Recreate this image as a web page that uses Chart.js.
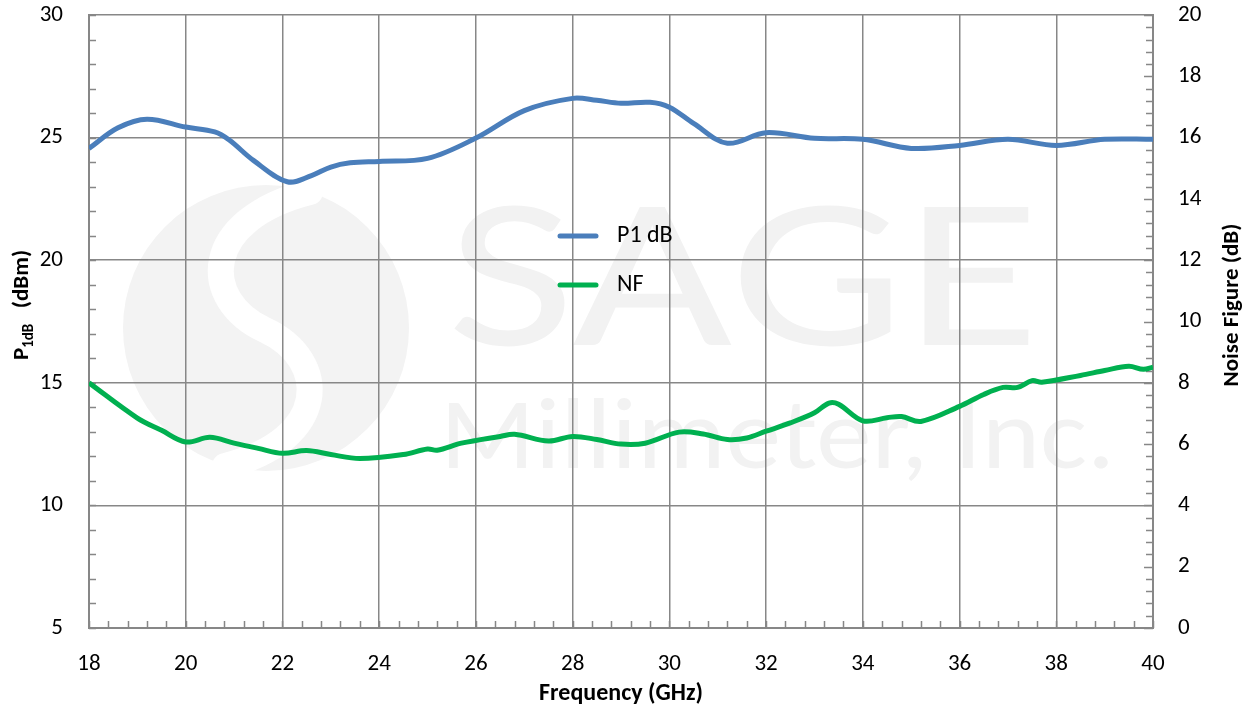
<!DOCTYPE html>
<html>
<head>
<meta charset="utf-8">
<script src="https://cdn.jsdelivr.net/npm/chart.js@4.4.1/dist/chart.umd.min.js"></script>
<style>
  html, body { margin: 0; padding: 0; background: #fff; }
  #wrap { width: 1252px; height: 708px; }
</style>
</head>
<body>
<div id="wrap"><canvas id="chart" width="1252" height="708"></canvas></div>
<script>
// P1dB vs frequency (left axis, dBm)
const p1Freq = [18, 18.6, 19.2, 20, 20.6, 20.9, 21.4, 22.1, 22.6, 23, 23.4, 24, 25, 26, 27, 28, 28.5, 29, 29.6, 30, 30.5, 31.2, 32, 33, 34, 35, 36, 37, 38, 39, 40];
const p1Values = [24.56, 25.4, 25.75, 25.43, 25.23, 24.9, 24.07, 23.2, 23.45, 23.8, 23.97, 24.03, 24.15, 24.98, 26.1, 26.6, 26.52, 26.4, 26.44, 26.24, 25.58, 24.77, 25.2, 24.97, 24.93, 24.56, 24.68, 24.93, 24.68, 24.93, 24.93];

// noise figure vs frequency (right axis, dB)
const nfFreq = [18, 19, 19.5, 20, 20.5, 21, 21.5, 22, 22.5, 23, 23.6, 24.5, 25, 25.2, 25.7, 26.5, 26.8, 27.5, 28, 28.5, 29, 29.5, 30.2, 30.7, 31.2, 31.6, 32, 32.5, 33, 33.3, 33.5, 34, 34.5, 34.8, 35.2, 36, 36.5, 36.9, 37.2, 37.5, 37.7, 38.5, 39, 39.5, 39.8, 40];
const nfValues = [8.0, 6.85, 6.45, 6.07, 6.22, 6.03, 5.86, 5.7, 5.79, 5.66, 5.53, 5.66, 5.84, 5.8, 6.03, 6.25, 6.32, 6.1, 6.25, 6.15, 6.0, 6.03, 6.39, 6.33, 6.15, 6.2, 6.42, 6.69, 7.02, 7.34, 7.3, 6.76, 6.86, 6.9, 6.74, 7.23, 7.62, 7.85, 7.85, 8.07, 8.02, 8.24, 8.4, 8.54, 8.44, 8.51];

const xTicks = [18, 20, 22, 24, 26, 28, 30, 32, 34, 36, 38, 40];
const leftTicks = [5, 10, 15, 20, 25, 30];
const rightTicks = [0, 2, 4, 6, 8, 10, 12, 14, 16, 18, 20];

const FONT = 'Carlito, Calibri, Lato, sans-serif';
const GRID = '#878787';
const BLUE = '#4a7ebb';
const GREEN = '#00b050';
const TICK_SIZE = 23;

// faint company watermark behind the grid
const watermark = {
  id: 'watermark',
  beforeDraw(chart) {
    const ctx = chart.ctx;
    ctx.save();
    ctx.fillStyle = '#f3f3f3';
    ctx.beginPath();
    ctx.arc(266, 328, 143, 0, Math.PI * 2);
    ctx.fill();
    ctx.strokeStyle = '#fff';
    ctx.lineWidth = 26;
    ctx.lineCap = 'round';
    ctx.beginPath();
    ctx.moveTo(310, 192);
    ctx.bezierCurveTo(200, 220, 200, 300, 265, 330);
    ctx.bezierCurveTo(330, 360, 330, 440, 225, 466);
    ctx.stroke();

    const fit = (text, font, x, y, w) => {
      ctx.font = font;
      const m = ctx.measureText(text).width;
      ctx.save();
      ctx.translate(x, y);
      ctx.scale(w / m, 1);
      ctx.fillText(text, 0, 0);
      ctx.restore();
    };
    ctx.fillStyle = '#f2f2f2';
    ctx.textBaseline = 'alphabetic';
    fit('SAGE', '300 215px ' + FONT, 447, 345, 593);
    fit('Millimeter, Inc.', '100px ' + FONT, 440, 468, 675);
    ctx.restore();
  }
};

// minor tick marks pointing into the plot, like the original
const minorTicks = {
  id: 'minorTicks',
  beforeDatasetsDraw(chart) {
    const { ctx, chartArea: a, scales } = chart;
    ctx.save();
    ctx.strokeStyle = GRID;
    ctx.lineWidth = 1.5;
    ctx.beginPath();
    for (let i = 0; i <= 55; i++) {
      const x = Math.round(scales.x.getPixelForValue(18 + i * 0.4)) + 0.5;
      ctx.moveTo(x, a.bottom);
      ctx.lineTo(x, a.bottom - 7);
    }
    for (let v = 5; v <= 30; v += 1) {
      const y = Math.round(scales.y.getPixelForValue(v)) + 0.5;
      ctx.moveTo(a.left, y);
      ctx.lineTo(a.left + 7, y);
    }
    for (let i = 0; i <= 50; i++) {
      const y = Math.round(scales.y2.getPixelForValue(i * 0.4)) + 0.5;
      ctx.moveTo(a.right, y);
      ctx.lineTo(a.right - (i % 5 === 0 ? 9 : 7), y);
    }
    ctx.stroke();
    ctx.restore();
  }
};

// axis titles (with subscript) and the in-plot legend
const labels = {
  id: 'labels',
  afterDraw(chart) {
    const ctx = chart.ctx;
    ctx.save();
    ctx.fillStyle = '#000';
    ctx.textBaseline = 'middle';

    // left title: P1dB (dBm)
    ctx.save();
    ctx.translate(22, 305);
    ctx.rotate(-Math.PI / 2);
    const big = 'bold 23px ' + FONT, small = 'bold 15px ' + FONT;
    ctx.font = big; const wP = ctx.measureText('P').width;
    ctx.font = small; const wSub = ctx.measureText('1dB').width;
    ctx.font = big; const wRest = ctx.measureText('   (dBm)').width;
    let x = -(wP + wSub + wRest) / 2;
    ctx.textAlign = 'left';
    ctx.fillText('P', x, 0); x += wP;
    ctx.font = small; ctx.fillText('1dB', x, 7); x += wSub;
    ctx.font = big; ctx.fillText('   (dBm)', x, 0);
    ctx.restore();

    // right title
    ctx.save();
    ctx.translate(1232, 305);
    ctx.rotate(-Math.PI / 2);
    ctx.font = big;
    ctx.textAlign = 'center';
    ctx.fillText('Noise Figure (dB)', 0, 0);
    ctx.restore();

    // bottom title
    ctx.font = 'bold 24px ' + FONT;
    ctx.textAlign = 'center';
    ctx.fillText('Frequency (GHz)', 621, 694);

    // legend
    const items = chart.data.datasets.map((d, i) => ({ label: d.label, color: d.borderColor, y: 236 + i * 49 }));
    ctx.lineCap = 'round';
    ctx.lineWidth = 5;
    ctx.font = '24px ' + FONT;
    ctx.textAlign = 'left';
    items.forEach(it => {
      ctx.strokeStyle = it.color;
      ctx.beginPath();
      ctx.moveTo(560, it.y);
      ctx.lineTo(596, it.y);
      ctx.stroke();
      ctx.fillText(it.label, 617, it.y);
    });
    ctx.restore();
  }
};

const tickFont = { family: FONT, size: TICK_SIZE };

// work out outer padding so the plot area sits at left 89, right 1153, top 15, bottom 626
const mctx = document.createElement('canvas').getContext('2d');
mctx.font = TICK_SIZE + 'px ' + FONT;
const wLeft = Math.max(...leftTicks.map(v => mctx.measureText(String(v)).width));
const wRight = Math.max(...rightTicks.map(v => mctx.measureText(String(v)).width));
const LPAD = 26, RPAD = 25, XPAD = 22;
const pad = {
  top: 15,
  left: 89 - (2 * LPAD + wLeft),
  right: 99 - (2 * RPAD + wRight),
  bottom: 82 - (2 * XPAD + 2 + TICK_SIZE * 1.2)
};

// drop the label-overflow padding that Chart.js reserves around the plot
const noVPad = s => { s.paddingTop = 0; s.paddingBottom = 0; };
const noHPad = s => { s.paddingLeft = 0; s.paddingRight = 0; };

new Chart(document.getElementById('chart').getContext('2d'), {
  type: 'line',
  data: {
    datasets: [
      {
        label: 'P1 dB',
        data: p1Freq.map((f, i) => ({ x: f, y: p1Values[i] })),
        borderColor: BLUE,
        borderWidth: 5,
        pointRadius: 0,
        tension: 0.35,
        yAxisID: 'y'
      },
      {
        label: 'NF',
        data: nfFreq.map((f, i) => ({ x: f, y: nfValues[i] })),
        borderColor: GREEN,
        borderWidth: 5,
        pointRadius: 0,
        tension: 0.35,
        yAxisID: 'y2'
      }
    ]
  },
  options: {
    responsive: false,
    animation: false,
    layout: { padding: pad },
    plugins: {
      legend: { display: false },
      tooltip: { enabled: false }
    },
    scales: {
      x: {
        type: 'linear',
        min: 18,
        max: 40,
        afterBuildTicks: s => { s.ticks = xTicks.map(v => ({ value: v })); },
        afterFit: noHPad,
        ticks: { font: tickFont, color: '#000', padding: XPAD, maxRotation: 0 },
        grid: { color: GRID, lineWidth: 1.5, drawTicks: false },
        border: { color: GRID, width: 2 }
      },
      y: {
        position: 'left',
        min: 5,
        max: 30,
        afterBuildTicks: s => { s.ticks = leftTicks.map(v => ({ value: v })); },
        afterFit: noVPad,
        ticks: { font: tickFont, color: '#000', padding: LPAD },
        grid: { color: GRID, lineWidth: 1.5, drawTicks: false },
        border: { color: GRID, width: 2 }
      },
      y2: {
        position: 'right',
        min: 0,
        max: 20,
        afterBuildTicks: s => { s.ticks = rightTicks.map(v => ({ value: v })); },
        afterFit: noVPad,
        ticks: { font: tickFont, color: '#000', padding: RPAD },
        grid: { display: false, drawTicks: false },
        border: { color: GRID, width: 2 }
      }
    }
  },
  plugins: [watermark, minorTicks, labels]
});
</script>
</body>
</html>
